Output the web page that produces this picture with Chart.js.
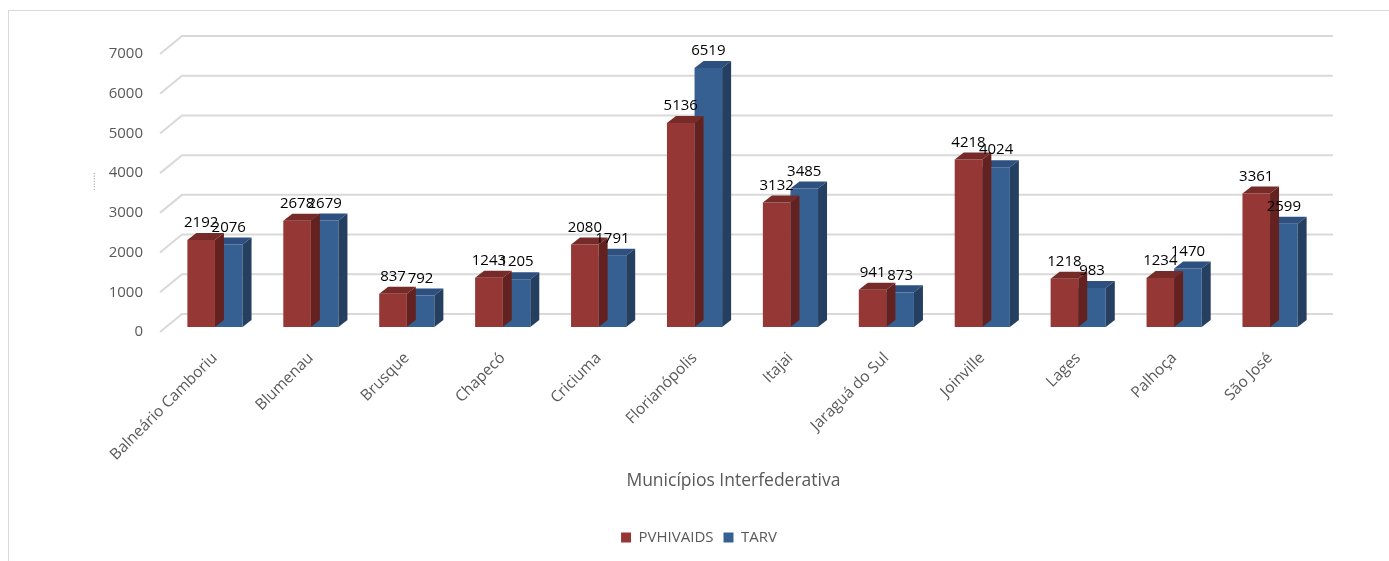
<!DOCTYPE html>
<html>
<head>
<meta charset="utf-8">
<script src="https://cdn.jsdelivr.net/npm/chart.js@4.4.0/dist/chart.umd.min.js"></script>
<style>
body { margin: 0; background: #fff; }
#wrap { position: relative; width: 1389px; height: 561px; }
</style>
</head>
<body>
<div id="wrap"><canvas id="grafico"></canvas></div>
<script>
const municipios = ["Balneário Camboriu", "Blumenau", "Brusque", "Chapecó", "Criciuma", "Florianópolis",
                    "Itajai", "Jaraguá do Sul", "Joinville", "Lages", "Palhoça", "São José"];
const pvhivaids = [2192, 2678, 837, 1243, 2080, 5136, 3132, 941, 4218, 1218, 1234, 3361];
const tarv = [2076, 2679, 792, 1205, 1791, 6519, 3485, 873, 4024, 983, 1470, 2599];
const yMax = 7000;
const yStep = 1000;

// cores das faces: frente, topo, lado
const faces = [
    { front: "#953735", top: "#772b29", side: "#632220" },
    { front: "#376092", top: "#2d5080", side: "#243f60" }
];

// profundidade das barras e deslocamento das paredes
const prof = { dx: 9, dy: 7 };
const fundo = { dx: 15, dy: 13 };
const frente = { dx: -7, dy: 5 };

const efeito3d = {
    id: "efeito3d",
    beforeDraw(chart) {
        const ctx = chart.ctx;
        ctx.save();
        ctx.fillStyle = "white";
        ctx.fillRect(0, 0, chart.width, chart.height);
        ctx.strokeStyle = "#d9d9d9";
        ctx.lineWidth = 1;
        ctx.strokeRect(8.5, 10.5, chart.width + 20, chart.height + 20);
        ctx.restore();
    },
    beforeDatasetsDraw(chart) {
        const ctx = chart.ctx;
        const a = chart.chartArea;
        const y = chart.scales.y;
        ctx.save();
        ctx.strokeStyle = "#d9d9d9";
        ctx.lineWidth = 2;
        y.ticks.forEach(t => {
            const py = y.getPixelForValue(t.value);
            ctx.beginPath();
            ctx.moveTo(a.left + frente.dx, py + frente.dy);
            ctx.lineTo(a.left + fundo.dx, py - fundo.dy);
            ctx.lineTo(a.right + fundo.dx, py - fundo.dy);
            ctx.stroke();
        });
        ctx.restore();
    },
    afterDatasetDraw(chart, args) {
        const ctx = chart.ctx;
        const cor = faces[args.index];
        ctx.save();
        args.meta.data.forEach(bar => {
            const p = bar.getProps(["x", "y", "width", "base"], true);
            const l = p.x - p.width / 2;
            const r = p.x + p.width / 2;
            ctx.fillStyle = cor.top;
            ctx.beginPath();
            ctx.moveTo(l, p.y);
            ctx.lineTo(r, p.y);
            ctx.lineTo(r + prof.dx, p.y - prof.dy);
            ctx.lineTo(l + prof.dx, p.y - prof.dy);
            ctx.closePath();
            ctx.fill();
            ctx.fillStyle = cor.side;
            ctx.beginPath();
            ctx.moveTo(r, p.y);
            ctx.lineTo(r + prof.dx, p.y - prof.dy);
            ctx.lineTo(r + prof.dx, p.base - prof.dy);
            ctx.lineTo(r, p.base);
            ctx.closePath();
            ctx.fill();
        });
        ctx.restore();
    },
    afterDatasetsDraw(chart) {
        const ctx = chart.ctx;
        ctx.save();
        ctx.fillStyle = "#000";
        ctx.font = "15px 'Open Sans'";
        ctx.textAlign = "center";
        ctx.textBaseline = "middle";
        chart.data.datasets.forEach((ds, i) => {
            chart.getDatasetMeta(i).data.forEach((bar, j) => {
                ctx.fillText(String(ds.data[j]), bar.x, bar.y - 17);
            });
        });
        ctx.restore();
    }
};

Chart.defaults.font.family = "'Open Sans', sans-serif";

const chart = new Chart(document.getElementById("grafico"), {
    type: "bar",
    data: {
        labels: municipios,
        datasets: [
            { label: "PVHIVAIDS", data: pvhivaids, backgroundColor: faces[0].front, borderWidth: 0 },
            { label: "TARV", data: tarv, backgroundColor: faces[1].front, borderWidth: 0 }
        ]
    },
    options: {
        responsive: true,
        maintainAspectRatio: false,
        animation: false,
        datasets: { bar: { categoryPercentage: 0.575, barPercentage: 1 } },
        layout: { padding: { left: 80, right: 71, top: 49, bottom: 6 } },
        scales: {
            x: {
                grid: { display: false, drawTicks: false },
                border: { display: false },
                ticks: { autoSkip: false, minRotation: 45, maxRotation: 45, padding: 22,
                         color: "#595959", font: { size: 15.5 } },
                title: { display: true, text: "Municípios Interfederativa    ", color: "#595959",
                         font: { size: 17.5 }, padding: { top: 0, bottom: 28 } },
                afterFit(axis) { axis.height = 193; }
            },
            y: {
                min: 0,
                max: yMax,
                grid: { display: false, drawTicks: false },
                border: { display: false },
                ticks: { stepSize: yStep, padding: 24, labelOffset: 5,
                         color: "#595959", font: { size: 15 },
                         callback: v => String(v) },
                title: { display: true, text: "     .......", color: "#a6a6a6",
                         font: { size: 10 }, padding: { top: 6, bottom: 0 } },
                afterFit(axis) { axis.width = 87; }
            }
        },
        plugins: {
            legend: {
                position: "bottom",
                labels: { boxWidth: 10, boxHeight: 10, padding: 10, color: "#595959", font: { size: 15 } }
            },
            tooltip: { enabled: false }
        }
    },
    plugins: [efeito3d]
});
</script>
</body>
</html>
